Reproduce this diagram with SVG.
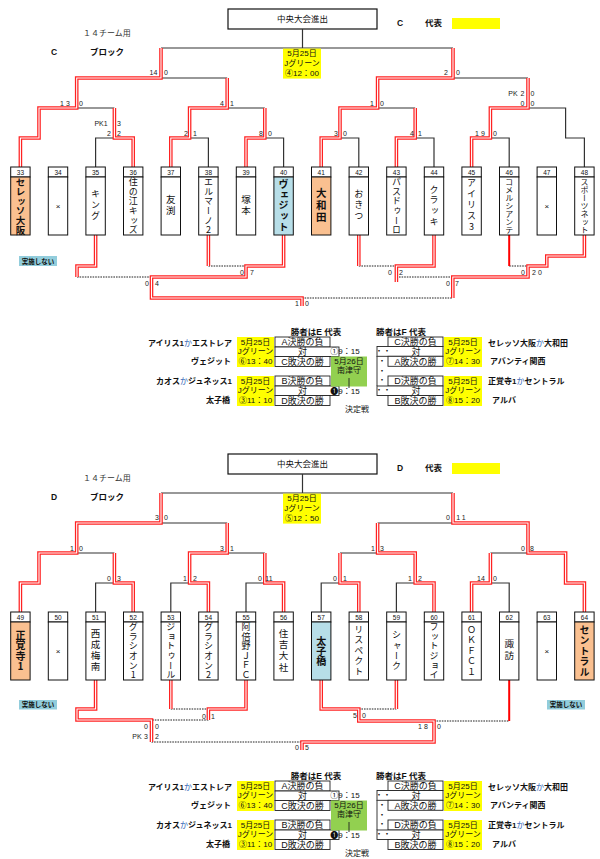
<svg xmlns="http://www.w3.org/2000/svg" width="600" height="859" viewBox="0 0 600 859">
<style>
text{font-family:"Liberation Sans","Noto Sans CJK JP",sans-serif;fill:#111}
.t{font-size:8.5px;text-anchor:middle;dominant-baseline:central}
.h{font-size:8.5px;font-weight:bold;dominant-baseline:central}
.sm{font-size:8px;dominant-baseline:central;fill:#333}
.k{fill:none;stroke:#333;stroke-width:1.2}
.d{fill:none;stroke:#222;stroke-width:1;stroke-dasharray:1.6 1}
.r{fill:none;stroke:#f22;stroke-width:3.6}
.rc{fill:none;stroke:#fff;stroke-width:1.1}
.rs{fill:none;stroke:#f00;stroke-width:2}
.s{font-size:7px;text-anchor:middle;dominant-baseline:central;fill:#222}
.bx{fill:#fff;stroke:#111;stroke-width:1}
.org{fill:#fac090}
.blu{fill:#b7dee8}
.num{font-size:6.5px;text-anchor:middle;dominant-baseline:central}
.nm{font-family:"Noto Sans CJK JP",sans-serif;font-size:9px;writing-mode:vertical-rl;text-orientation:upright;text-anchor:middle;letter-spacing:2px}
.nb{font-weight:bold}
.x{font-size:8px;text-anchor:middle;dominant-baseline:central}
.ns{fill:#92cddc}
.nst{font-size:6.5px;font-weight:bold;text-anchor:middle;dominant-baseline:central}
.y{fill:#ff0}
.g{fill:#92d050}
.cell{fill:#fff;stroke:#222;stroke-width:0.9}
.tt{font-size:8px;text-anchor:middle;dominant-baseline:central}
.tc{font-size:9px;text-anchor:middle;dominant-baseline:central}
.lb{font-size:8px;font-weight:bold;dominant-baseline:central}
.hd{font-size:8.5px;font-weight:bold;text-anchor:middle;dominant-baseline:central}
.ka{font-weight:normal;fill:#2d5fb5}
.ln{fill:none;stroke:#222;stroke-width:0.9}
</style>
<defs>
<g id="redT">
<path d="M161,48V78H76.7V108H39V138H20.4V167"/>
<path d="M453,48V78H377.6V108H340V138H321.2V167"/>
<path d="M227.2,78V108H189.6V138H170.8V167"/>
<path d="M528,78V108H490.4V138H471.6V167"/>
<path d="M114.4,108V138H133.2V167"/>
<path d="M264.8,108V138H246V167"/>
<path d="M415.2,108V138H396.4V167"/>
<path d="M95.6,235V266H77V277"/>
<path d="M208.4,235V266"/>
<path d="M283.6,235V266H246V277H151.5V298H302V306"/>
<path d="M358.8,235V266"/>
<path d="M434,235V266H396.4V282"/>
<path d="M584.4,235V256H546.8V266H528V277H452.8V298"/>
</g>
<g id="redB">
<path d="M161,48V78H76.7V108H39V138H20.4V167"/>
<path d="M453,48V78H528V108H565.6V138H584.4V167"/>
<path d="M227.2,78V108H189.6V138H208.4V167"/>
<path d="M377.6,78V108H415.2V138H434V167"/>
<path d="M114.4,108V138H133.2V167"/>
<path d="M264.8,108V138H283.6V167"/>
<path d="M340,108V138H358.8V167"/>
<path d="M490.4,108V138H471.6V167"/>
<path d="M95.6,235V264H77V275H151.5V297"/>
<path d="M170.8,235V264"/>
<path d="M246,235V264H208.4V275"/>
<path d="M321.2,235V264H358.8V276H434V297H302V305"/>
<path d="M396.4,235V264"/>
</g>
</defs>

<!-- ================= TOP (C block) ================= -->
<g id="header-c">
<rect x="228" y="9" width="149" height="20" fill="#fff" stroke="#111" stroke-width="1.2"/>
<text class="t" x="302.5" y="19">中央大会進出</text>
<text class="sm" x="83" y="33">１４チーム用</text>
<text class="h" x="51" y="52">C</text>
<text class="h" x="90" y="52">ブロック</text>
<text class="h" x="397" y="23">C</text>
<text class="h" x="425" y="23">代表</text>
<rect class="y" x="452" y="18" width="48" height="11"/>
</g>

<g id="connectors-c">
<path class="k" d="M302.5,29V48M161,48H453M161,78H227.2M452.8,78H528M76.7,108H114.4M227.2,108H264.8M377.6,108H415.2M528,108H565.6V138H584.4V167M95.6,167V138H114.4M189.6,138H208.4V167M264.8,138H283.6V167M340,138H358.8V167M415.2,138H434V167M490.4,138H509.2V167"/>
<path class="d" d="M77,277H151.5M208.4,266H246M302,298H452.8M358.8,266H396.4M396.4,277H452.8M509.2,266H528"/>
<use href="#redT" class="r"/>
<use href="#redT" class="rc"/>
<path class="rs" d="M509.2,235V266"/>
</g>

<g id="date-c">
<rect class="y" x="283" y="48.6" width="38" height="30"/>
<text class="tt" x="302" y="53.5">5月25日</text>
<text class="tt" x="302" y="63">Jグリーン</text>
<text class="tt" x="302" y="73">④12：00</text>
</g>

<g id="scores-c">
<text class="s" x="153.5" y="72">14</text><text class="s" x="166" y="72">0</text>
<text class="s" x="446" y="72">2</text><text class="s" x="458" y="72">0</text>
<text class="s" x="66" y="103" letter-spacing="2">13</text><text class="s" x="81" y="103">0</text>
<text class="s" x="222" y="103">4</text><text class="s" x="232" y="103">1</text>
<text class="s" x="372" y="103">1</text><text class="s" x="382" y="103">0</text>
<text class="s" x="513" y="93" font-size="6">PK</text><text class="s" x="522.5" y="93">2</text><text class="s" x="532.5" y="93">0</text>
<text class="s" x="522.5" y="103">0</text><text class="s" x="532.5" y="103">0</text>
<text class="s" x="101" y="123">PK1</text><text class="s" x="119" y="123">3</text>
<text class="s" x="109" y="133">2</text><text class="s" x="119" y="133">2</text>
<text class="s" x="186" y="133">2</text><text class="s" x="195" y="133">1</text>
<text class="s" x="261" y="133">8</text><text class="s" x="270" y="133">0</text>
<text class="s" x="336" y="133">3</text><text class="s" x="345" y="133">0</text>
<text class="s" x="412" y="133">4</text><text class="s" x="420" y="133">1</text>
<text class="s" x="481" y="133" letter-spacing="2">19</text><text class="s" x="495" y="133">0</text>
<text class="s" x="242" y="272">0</text><text class="s" x="252" y="272">7</text>
<text class="s" x="147" y="283">0</text><text class="s" x="157" y="283">4</text>
<text class="s" x="297" y="303">1</text><text class="s" x="307" y="303">0</text>
<text class="s" x="390" y="272">0</text><text class="s" x="401" y="272">2</text>
<text class="s" x="523" y="272">0</text><text class="s" x="538" y="272" letter-spacing="2">20</text>
<text class="s" x="448" y="283">0</text><text class="s" x="457" y="283">7</text>
</g>

<g id="n33"><rect class="bx" x="10.7" y="167" width="19.4" height="10"/><text class="num" x="20.4" y="172.3">33</text><rect class="bx org" x="10.7" y="177" width="19.4" height="58"/><text class="nm nb" x="20.4" y="206" style="font-size:9.5px;letter-spacing:0.1px">セレッソ大阪</text></g>
<g id="n34"><rect class="bx" x="48.3" y="167" width="19.4" height="10"/><text class="num" x="58" y="172.3">34</text><rect class="bx" x="48.3" y="177" width="19.4" height="58"/><text class="x" x="58" y="206">×</text></g>
<g id="n35"><rect class="bx" x="85.9" y="167" width="19.4" height="10"/><text class="num" x="95.6" y="172.3">35</text><rect class="bx" x="85.9" y="177" width="19.4" height="58"/><text class="nm" x="95.6" y="206">キング</text></g>
<g id="n36"><rect class="bx" x="123.5" y="167" width="19.4" height="10"/><text class="num" x="133.2" y="172.3">36</text><rect class="bx" x="123.5" y="177" width="19.4" height="58"/><text class="nm" x="133.2" y="206" style="letter-spacing:0.6px">住の江キッズ</text></g>
<g id="n37"><rect class="bx" x="161.1" y="167" width="19.4" height="10"/><text class="num" x="170.8" y="172.3">37</text><rect class="bx" x="161.1" y="177" width="19.4" height="58"/><text class="nm" x="170.8" y="206" style="font-size:9.5px;letter-spacing:1.5px">友渕</text></g>
<g id="n38"><rect class="bx" x="198.7" y="167" width="19.4" height="10"/><text class="num" x="208.4" y="172.3">38</text><rect class="bx" x="198.7" y="177" width="19.4" height="58"/><text class="nm" x="208.4" y="206" style="letter-spacing:0.6px">エルマーノ2</text></g>
<g id="n39"><rect class="bx" x="236.3" y="167" width="19.4" height="10"/><text class="num" x="246" y="172.3">39</text><rect class="bx" x="236.3" y="177" width="19.4" height="58"/><text class="nm" x="246" y="206" style="font-size:9.5px;letter-spacing:1.5px">塚本</text></g>
<g id="n40"><rect class="bx" x="273.9" y="167" width="19.4" height="10"/><text class="num" x="283.6" y="172.3">40</text><rect class="bx blu" x="273.9" y="177" width="19.4" height="58"/><text class="nm nb" x="283.6" y="206" style="font-size:10px;letter-spacing:0.7px">ヴェジット</text></g>
<g id="n41"><rect class="bx" x="311.5" y="167" width="19.4" height="10"/><text class="num" x="321.2" y="172.3">41</text><rect class="bx org" x="311.5" y="177" width="19.4" height="58"/><text class="nm nb" x="321.2" y="206" style="font-size:10.5px;letter-spacing:1.5px">大和田</text></g>
<g id="n42"><rect class="bx" x="349.1" y="167" width="19.4" height="10"/><text class="num" x="358.8" y="172.3">42</text><rect class="bx" x="349.1" y="177" width="19.4" height="58"/><text class="nm" x="358.8" y="206">おきつ</text></g>
<g id="n43"><rect class="bx" x="386.7" y="167" width="19.4" height="10"/><text class="num" x="396.4" y="172.3">43</text><rect class="bx" x="386.7" y="177" width="19.4" height="58"/><text class="nm" x="396.4" y="206" style="letter-spacing:0.6px">パスドゥーロ</text></g>
<g id="n44"><rect class="bx" x="424.3" y="167" width="19.4" height="10"/><text class="num" x="434" y="172.3">44</text><rect class="bx" x="424.3" y="177" width="19.4" height="58"/><text class="nm" x="434" y="206" style="letter-spacing:1.7px">クラッキ</text></g>
<g id="n45"><rect class="bx" x="461.9" y="167" width="19.4" height="10"/><text class="num" x="471.6" y="172.3">45</text><rect class="bx" x="461.9" y="177" width="19.4" height="58"/><text class="nm" x="471.6" y="206">アイリス3</text></g>
<g id="n46"><rect class="bx" x="499.5" y="167" width="19.4" height="10"/><text class="num" x="509.2" y="172.3">46</text><rect class="bx" x="499.5" y="177" width="19.4" height="58"/><text class="nm" x="509.2" y="206" style="font-size:8px;letter-spacing:0">コメルシアンテ</text></g>
<g id="n47"><rect class="bx" x="537.1" y="167" width="19.4" height="10"/><text class="num" x="546.8" y="172.3">47</text><rect class="bx" x="537.1" y="177" width="19.4" height="58"/><text class="x" x="546.8" y="206">×</text></g>
<g id="n48"><rect class="bx" x="574.7" y="167" width="19.4" height="10"/><text class="num" x="584.4" y="172.3">48</text><rect class="bx" x="574.7" y="177" width="19.4" height="58"/><text class="nm" x="584.4" y="206" style="font-size:8px;letter-spacing:0">スポーツネット</text></g>

<g id="note-c"><rect class="ns" x="19" y="256" width="38" height="10"/><text class="nst" x="38" y="261">実施しない</text></g>

<g id="schedule-c">
<text class="hd" x="316" y="332">勝者はE 代表</text>
<text class="hd" x="401" y="332">勝者はF 代表</text>
<text class="lb" x="232" y="343" text-anchor="end">アイリス1<tspan class="ka">か</tspan>エストレア</text>
<text class="lb" x="231" y="361.5" text-anchor="end">ヴェジット</text>
<text class="lb" x="232" y="381" text-anchor="end">カオス<tspan class="ka">か</tspan>ジュネッス1</text>
<text class="lb" x="230" y="400" text-anchor="end">太子橋</text>
<rect class="y" x="237" y="337" width="37" height="30"/>
<text class="tt" x="255.5" y="342">5月25日</text><text class="tt" x="255.5" y="351.7">Jグリーン</text><text class="tt" x="255.5" y="361.5">⑥13：40</text>
<rect class="cell" x="275" y="337" width="55" height="10"/><text class="tc" x="302.5" y="342">A決勝の負</text>
<rect class="cell" x="275" y="347" width="64" height="9.5"/><text class="tc" x="302.5" y="351.8">対</text>
<rect class="cell" x="275" y="356.5" width="55" height="10"/><text class="tc" x="302.5" y="361.5">C敗決の勝</text>
<rect class="y" x="237" y="376" width="37" height="30"/>
<text class="tt" x="255.5" y="381">5月25日</text><text class="tt" x="255.5" y="390.7">Jグリーン</text><text class="tt" x="255.5" y="400.5">③11：10</text>
<rect class="cell" x="275" y="376" width="55" height="10"/><text class="tc" x="302.5" y="381">B決勝の負</text>
<rect class="cell" x="275" y="386" width="64" height="9.5"/><text class="tc" x="302.5" y="390.8">対</text>
<rect class="cell" x="275" y="395.5" width="55" height="10"/><text class="tc" x="302.5" y="400.5">D敗決の勝</text>
<rect class="g" x="331" y="356.5" width="36" height="30"/>
<text class="tt" x="349" y="361.5">5月26日</text><text class="tt" x="349" y="370.5">南津守</text>
<path class="ln" d="M349,378V388M377,356V386"/>
<text class="tt" x="345" y="351.7" text-anchor="start">①9：15</text>
<text class="tt" x="345" y="391" text-anchor="start">❶9：15</text>
<rect class="cell" x="388" y="337" width="55" height="9.5"/><text class="tc" x="415.5" y="342">C決勝の負</text>
<rect class="cell" x="377" y="346.5" width="66" height="9.8"/><text class="tt" x="383" y="351.5">・・</text><text class="tc" x="416" y="351.5">対</text>
<rect class="cell" x="388" y="356.3" width="55" height="10"/><text class="tc" x="415.5" y="361.5">A敗決の勝</text>
<text class="tt" x="382" y="361">・</text><text class="tt" x="382" y="371">・</text><text class="tt" x="382" y="380">・</text>
<rect class="cell" x="388" y="376" width="55" height="10"/><text class="tc" x="415.5" y="381">D決勝の負</text>
<rect class="cell" x="377" y="386" width="66" height="9.5"/><text class="tt" x="383" y="390.8">・・</text><text class="tc" x="416" y="390.8">対</text>
<rect class="cell" x="388" y="395.5" width="55" height="10"/><text class="tc" x="415.5" y="400.5">B敗決の勝</text>
<rect class="y" x="444" y="337" width="38" height="30"/>
<text class="tt" x="463" y="342">5月25日</text><text class="tt" x="463" y="351.7">Jグリーン</text><text class="tt" x="463" y="361.5">⑦14：30</text>
<rect class="y" x="444" y="376" width="38" height="30"/>
<text class="tt" x="463" y="381">5月25日</text><text class="tt" x="463" y="390.7">Jグリーン</text><text class="tt" x="463" y="400.5">⑧15：20</text>
<text class="lb" x="488" y="343">セレッソ大阪<tspan class="ka">か</tspan>大和田</text>
<text class="lb" x="490" y="361.5">アバンティ関西</text>
<text class="lb" x="488" y="381">正覚寺1<tspan class="ka">か</tspan>セントラル</text>
<text class="lb" x="492" y="400">アルバ</text>
<text class="tt" x="357" y="409.5">決定戦</text>
</g>

<!-- ================= BOTTOM (D block) ================= -->
<g transform="translate(0,445)">
<g id="header-d">
<rect x="228" y="9" width="149" height="20" fill="#fff" stroke="#111" stroke-width="1.2"/>
<text class="t" x="302.5" y="19">中央大会進出</text>
<text class="sm" x="83" y="33">１４チーム用</text>
<text class="h" x="51" y="52">D</text>
<text class="h" x="90" y="52">ブロック</text>
<text class="h" x="397" y="23">D</text>
<text class="h" x="425" y="23">代表</text>
<rect class="y" x="452" y="18" width="48" height="11"/>
</g>

<g id="connectors-d">
<path class="k" d="M302.5,29V48M161,48H453M161,78H227.2M377.6,78H452.8M76.7,108H114.4M227.2,108H264.8M340,108H377.6M490.4,108H528M95.6,167V138H114.4M170.8,167V138H189.6M246,167V138H264.8M321.2,167V138H340M396.4,167V138H415.2M490.4,138H509.2V167"/>
<path class="d" d="M170.8,264H208.4M208.4,275H151.5M151.5,297H302M358.8,264H396.4M434,276H509.2"/>
<use href="#redB" class="r"/>
<use href="#redB" class="rc"/>
<path class="rs" d="M509.2,235V276"/>
</g>

<g id="date-d">
<rect class="y" x="283" y="48.6" width="38" height="30"/>
<text class="tt" x="302" y="53.5">5月25日</text>
<text class="tt" x="302" y="63">Jグリーン</text>
<text class="tt" x="302" y="73">⑤12：50</text>
</g>

<g id="scores-d">
<text class="s" x="157" y="72">3</text><text class="s" x="166" y="72">0</text>
<text class="s" x="448" y="72">0</text><text class="s" x="462" y="72" letter-spacing="2">11</text>
<text class="s" x="72" y="103">1</text><text class="s" x="81" y="103">0</text>
<text class="s" x="222" y="103">3</text><text class="s" x="232" y="103">1</text>
<text class="s" x="373" y="103">1</text><text class="s" x="382" y="103">3</text>
<text class="s" x="523" y="103">0</text><text class="s" x="532" y="103">8</text>
<text class="s" x="109" y="133">0</text><text class="s" x="119" y="133">3</text>
<text class="s" x="185" y="133">1</text><text class="s" x="195" y="133">2</text>
<text class="s" x="260" y="133">0</text><text class="s" x="269" y="133" font-size="5">11</text>
<text class="s" x="335" y="133">0</text><text class="s" x="345" y="133">1</text>
<text class="s" x="410" y="133">1</text><text class="s" x="420" y="133">2</text>
<text class="s" x="481" y="133">14</text><text class="s" x="495" y="133">0</text>
<text class="s" x="204" y="271">0</text><text class="s" x="213" y="271">1</text>
<text class="s" x="146" y="281">0</text><text class="s" x="157" y="281">0</text>
<text class="s" x="137" y="291" font-size="6">PK</text><text class="s" x="146" y="291">3</text><text class="s" x="157" y="291">2</text>
<text class="s" x="297" y="302">0</text><text class="s" x="307" y="302">5</text>
<text class="s" x="355" y="270">5</text><text class="s" x="364" y="270">0</text>
<text class="s" x="424" y="281" letter-spacing="2">18</text><text class="s" x="439" y="281">0</text>
</g>

<g id="n49"><rect class="bx" x="10.7" y="167" width="19.4" height="10"/><text class="num" x="20.4" y="172.3">49</text><rect class="bx org" x="10.7" y="177" width="19.4" height="58"/><text class="nm nb" x="20.4" y="206" style="font-size:10px;letter-spacing:0.3px">正覚寺1</text></g>
<g id="n50"><rect class="bx" x="48.3" y="167" width="19.4" height="10"/><text class="num" x="58" y="172.3">50</text><rect class="bx" x="48.3" y="177" width="19.4" height="58"/><text class="x" x="58" y="206">×</text></g>
<g id="n51"><rect class="bx" x="85.9" y="167" width="19.4" height="10"/><text class="num" x="95.6" y="172.3">51</text><rect class="bx" x="85.9" y="177" width="19.4" height="58"/><text class="nm" x="95.6" y="206" style="font-size:9.5px;letter-spacing:1.5px">西成梅南</text></g>
<g id="n52"><rect class="bx" x="123.5" y="167" width="19.4" height="10"/><text class="num" x="133.2" y="172.3">52</text><rect class="bx" x="123.5" y="177" width="19.4" height="58"/><text class="nm" x="133.2" y="206" style="letter-spacing:0.6px">グラシオン1</text></g>
<g id="n53"><rect class="bx" x="161.1" y="167" width="19.4" height="10"/><text class="num" x="170.8" y="172.3">53</text><rect class="bx" x="161.1" y="177" width="19.4" height="58"/><text class="nm" x="170.8" y="206" style="letter-spacing:0.6px">ジョトゥール</text></g>
<g id="n54"><rect class="bx" x="198.7" y="167" width="19.4" height="10"/><text class="num" x="208.4" y="172.3">54</text><rect class="bx" x="198.7" y="177" width="19.4" height="58"/><text class="nm" x="208.4" y="206" style="letter-spacing:0.6px">グラシオン2</text></g>
<g id="n55"><rect class="bx" x="236.3" y="167" width="19.4" height="10"/><text class="num" x="246" y="172.3">55</text><rect class="bx" x="236.3" y="177" width="19.4" height="58"/><text class="nm" x="246" y="206" style="letter-spacing:0.6px">阿倍野ＪＦＣ</text></g>
<g id="n56"><rect class="bx" x="273.9" y="167" width="19.4" height="10"/><text class="num" x="283.6" y="172.3">56</text><rect class="bx" x="273.9" y="177" width="19.4" height="58"/><text class="nm" x="283.6" y="206" style="font-size:9.5px;letter-spacing:1.8px">住吉大社</text></g>
<g id="n57"><rect class="bx" x="311.5" y="167" width="19.4" height="10"/><text class="num" x="321.2" y="172.3">57</text><rect class="bx blu" x="311.5" y="177" width="19.4" height="58"/><text class="nm nb" x="321.2" y="206" style="font-size:10px;letter-spacing:0">太子橋</text></g>
<g id="n58"><rect class="bx" x="349.1" y="167" width="19.4" height="10"/><text class="num" x="358.8" y="172.3">58</text><rect class="bx" x="349.1" y="177" width="19.4" height="58"/><text class="nm" x="358.8" y="206" style="letter-spacing:1.5px">リスペクト</text></g>
<g id="n59"><rect class="bx" x="386.7" y="167" width="19.4" height="10"/><text class="num" x="396.4" y="172.3">59</text><rect class="bx" x="386.7" y="177" width="19.4" height="58"/><text class="nm" x="396.4" y="206" style="letter-spacing:1.3px">シャーク</text></g>
<g id="n60"><rect class="bx" x="424.3" y="167" width="19.4" height="10"/><text class="num" x="434" y="172.3">60</text><rect class="bx" x="424.3" y="177" width="19.4" height="58"/><text class="nm" x="434" y="206" style="letter-spacing:0.6px">フットジョイ</text></g>
<g id="n61"><rect class="bx" x="461.9" y="167" width="19.4" height="10"/><text class="num" x="471.6" y="172.3">61</text><rect class="bx" x="461.9" y="177" width="19.4" height="58"/><text class="nm" x="471.6" y="206" style="letter-spacing:1.5px">ＯＫＦＣ１</text></g>
<g id="n62"><rect class="bx" x="499.5" y="167" width="19.4" height="10"/><text class="num" x="509.2" y="172.3">62</text><rect class="bx" x="499.5" y="177" width="19.4" height="58"/><text class="nm" x="509.2" y="206" style="font-size:9.5px;letter-spacing:2.5px">諏訪</text></g>
<g id="n63"><rect class="bx" x="537.1" y="167" width="19.4" height="10"/><text class="num" x="546.8" y="172.3">63</text><rect class="bx" x="537.1" y="177" width="19.4" height="58"/><text class="x" x="546.8" y="206">×</text></g>
<g id="n64"><rect class="bx" x="574.7" y="167" width="19.4" height="10"/><text class="num" x="584.4" y="172.3">64</text><rect class="bx org" x="574.7" y="177" width="19.4" height="58"/><text class="nm nb" x="584.4" y="206" style="font-size:10px;letter-spacing:0.5px">セントラル</text></g>

<g id="note-d1"><rect class="ns" x="19" y="255" width="38" height="9.5"/><text class="nst" x="38" y="259.8">実施しない</text></g>
<g id="note-d2"><rect class="ns" x="547" y="255" width="38" height="9.5"/><text class="nst" x="566" y="259.8">実施しない</text></g>
</g>

<g id="schedule-d" transform="translate(0,444)">
<text class="hd" x="316" y="332">勝者はE 代表</text>
<text class="hd" x="401" y="332">勝者はF 代表</text>
<text class="lb" x="232" y="343" text-anchor="end">アイリス1<tspan class="ka">か</tspan>エストレア</text>
<text class="lb" x="231" y="361.5" text-anchor="end">ヴェジット</text>
<text class="lb" x="232" y="381" text-anchor="end">カオス<tspan class="ka">か</tspan>ジュネッス1</text>
<text class="lb" x="230" y="400" text-anchor="end">太子橋</text>
<rect class="y" x="237" y="337" width="37" height="30"/>
<text class="tt" x="255.5" y="342">5月25日</text><text class="tt" x="255.5" y="351.7">Jグリーン</text><text class="tt" x="255.5" y="361.5">⑥13：40</text>
<rect class="cell" x="275" y="337" width="55" height="10"/><text class="tc" x="302.5" y="342">A決勝の負</text>
<rect class="cell" x="275" y="347" width="64" height="9.5"/><text class="tc" x="302.5" y="351.8">対</text>
<rect class="cell" x="275" y="356.5" width="55" height="10"/><text class="tc" x="302.5" y="361.5">C敗決の勝</text>
<rect class="y" x="237" y="376" width="37" height="30"/>
<text class="tt" x="255.5" y="381">5月25日</text><text class="tt" x="255.5" y="390.7">Jグリーン</text><text class="tt" x="255.5" y="400.5">③11：10</text>
<rect class="cell" x="275" y="376" width="55" height="10"/><text class="tc" x="302.5" y="381">B決勝の負</text>
<rect class="cell" x="275" y="386" width="64" height="9.5"/><text class="tc" x="302.5" y="390.8">対</text>
<rect class="cell" x="275" y="395.5" width="55" height="10"/><text class="tc" x="302.5" y="400.5">D敗決の勝</text>
<rect class="g" x="331" y="356.5" width="36" height="30"/>
<text class="tt" x="349" y="361.5">5月26日</text><text class="tt" x="349" y="370.5">南津守</text>
<path class="ln" d="M349,378V388M377,356V386"/>
<text class="tt" x="345" y="351.7" text-anchor="start">①9：15</text>
<text class="tt" x="345" y="391" text-anchor="start">❶9：15</text>
<rect class="cell" x="388" y="337" width="55" height="9.5"/><text class="tc" x="415.5" y="342">C決勝の負</text>
<rect class="cell" x="377" y="346.5" width="66" height="9.8"/><text class="tt" x="383" y="351.5">・・</text><text class="tc" x="416" y="351.5">対</text>
<rect class="cell" x="388" y="356.3" width="55" height="10"/><text class="tc" x="415.5" y="361.5">A敗決の勝</text>
<text class="tt" x="382" y="361">・</text><text class="tt" x="382" y="371">・</text><text class="tt" x="382" y="380">・</text>
<rect class="cell" x="388" y="376" width="55" height="10"/><text class="tc" x="415.5" y="381">D決勝の負</text>
<rect class="cell" x="377" y="386" width="66" height="9.5"/><text class="tt" x="383" y="390.8">・・</text><text class="tc" x="416" y="390.8">対</text>
<rect class="cell" x="388" y="395.5" width="55" height="10"/><text class="tc" x="415.5" y="400.5">B敗決の勝</text>
<rect class="y" x="444" y="337" width="38" height="30"/>
<text class="tt" x="463" y="342">5月25日</text><text class="tt" x="463" y="351.7">Jグリーン</text><text class="tt" x="463" y="361.5">⑦14：30</text>
<rect class="y" x="444" y="376" width="38" height="30"/>
<text class="tt" x="463" y="381">5月25日</text><text class="tt" x="463" y="390.7">Jグリーン</text><text class="tt" x="463" y="400.5">⑧15：20</text>
<text class="lb" x="488" y="343">セレッソ大阪<tspan class="ka">か</tspan>大和田</text>
<text class="lb" x="490" y="361.5">アバンティ関西</text>
<text class="lb" x="488" y="381">正覚寺1<tspan class="ka">か</tspan>セントラル</text>
<text class="lb" x="492" y="400">アルバ</text>
<text class="tt" x="357" y="409.5">決定戦</text>
</g>
</svg>
